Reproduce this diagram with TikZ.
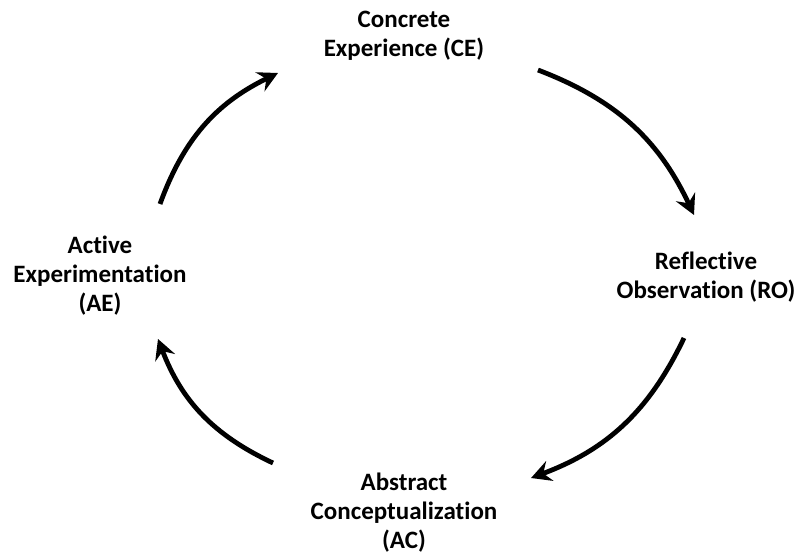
\documentclass[tikz,border=0pt]{standalone}
\usepackage{fontspec}
\setmainfont[Ligatures=NoCommon]{Carlito}
\usetikzlibrary{arrows.meta}
\begin{document}
\begin{tikzpicture}[x=1pt,y=-1pt,
  lbl/.style={font=\bfseries\fontsize{25}{29}\selectfont, align=center, inner sep=0pt},
  cyc/.style={line width=4.8pt, -{Stealth[length=20pt,width=21pt,inset=7pt]}}]
\useasboundingbox (0,0) rectangle (799,556);
\node[lbl] (ce) at (404,36) {Concrete\\Experience (CE)};
\node[lbl] (ro) at (706,277) {Reflective\\Observation (RO)};
\node[lbl] (ae) at (100,276) {Active\\Experimentation\\(AE)};
\node[lbl] (ac) at (404,513) {Abstract\\Conceptualization\\(AC)};
\coordinate (a1s) at (160,204); \coordinate (a1e) at (278,73);
\coordinate (a2s) at (538,70);  \coordinate (a2e) at (694,215);
\coordinate (a3s) at (684,338); \coordinate (a3e) at (531,478);
\coordinate (a4s) at (273,463); \coordinate (a4e) at (158,339);
\draw[cyc] (a1s) to[bend left=22] (a1e);
\draw[cyc] (a2s) to[bend left=22] (a2e);
\draw[cyc] (a3s) to[bend left=22] (a3e);
\draw[cyc] (a4s) to[bend left=22] (a4e);
\end{tikzpicture}
\end{document}
